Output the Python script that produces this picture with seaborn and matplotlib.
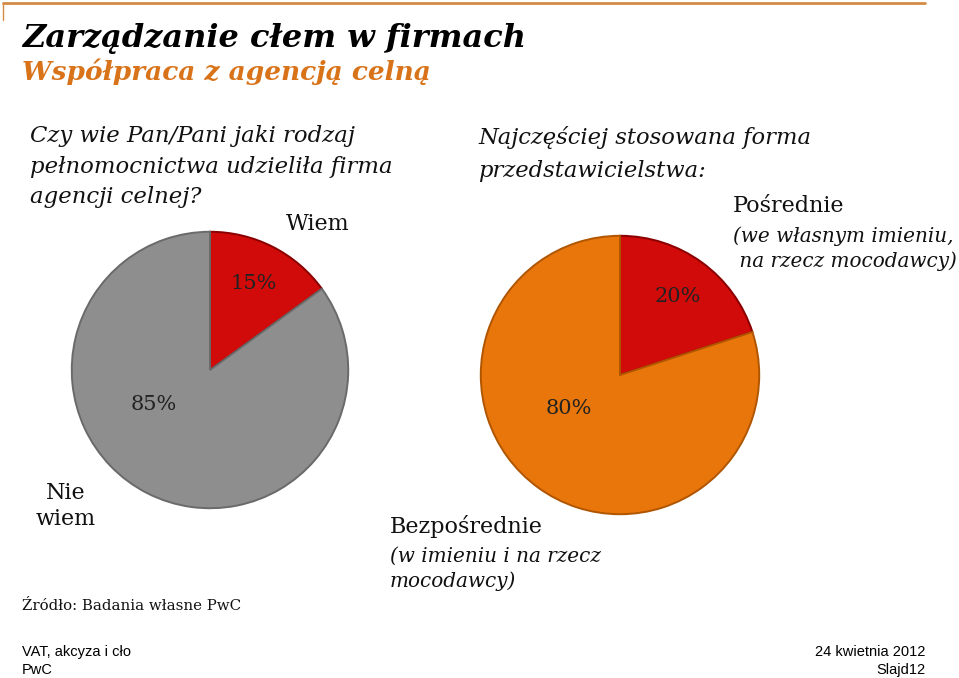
import matplotlib
matplotlib.use("Agg")
import matplotlib.pyplot as plt
from matplotlib.lines import Line2D
import seaborn as sns

#------------------------------------------------------------------------------------------------------------------------------

title = "Zarządzanie cłem w firmach"
subtitle = "Współpraca z agencją celną"

left_question = "Czy wie Pan/Pani jaki rodzaj\npełnomocnictwa udzieliła firma\nagencji celnej?"
left_labels = ["Wiem", "Nie\nwiem"]
left_values = [15, 85]
left_colors = ["#d10a0a", "#8e8e8e"]
left_edges = ["#8a0000", "#6a6a6a"]

right_question = "Najczęściej stosowana forma\nprzedstawicielstwa:"
right_labels = ["Pośrednie", "Bezpośrednie"]
right_notes = ["(we własnym imieniu,\n na rzecz mocodawcy)", "(w imieniu i na rzecz\nmocodawcy)"]
right_values = [20, 80]
right_colors = ["#d10a0a", "#e8760a"]
right_edges = ["#8a0000", "#b05500"]

source = "Źródło: Badania własne PwC"
footer_left = "VAT, akcyza i cło\nPwC"
footer_right = "24 kwietnia 2012\nSlajd12"

#------------------------------------------------------------------------------------------------------------------------------

sns.set_theme(style="white")
plt.rcParams['font.family'] = ['DejaVu Serif']

W, H = 959, 678
fig = plt.figure(figsize=(W / 100, H / 100), dpi=100)
fig.patch.set_facecolor("white")


def px(x, y):
    # pixel coords (top-left origin) -> figure fraction
    return x / W, 1 - y / H


def draw_pie(cx, cy, r, values, colors, edges, big_offset):
    ax = fig.add_axes([(cx - r) / W, (H - cy - r) / H, 2 * r / W, 2 * r / H])
    wedges, texts, autotexts = ax.pie(values, colors=colors, startangle=90, counterclock=False,
                                      autopct='%d%%', pctdistance=0.7, radius=1.0,
                                      textprops={'fontsize': 15, 'color': '#222222'},
                                      wedgeprops={'linewidth': 1.4})
    for w, ec in zip(wedges, edges):
        w.set_edgecolor(ec)
    # the big slice label sits lower-left in the original
    autotexts[1].set_position(big_offset)
    ax.set_xlim(-1.02, 1.02)
    ax.set_ylim(-1.02, 1.02)
    ax.set_aspect('equal')
    ax.axis('off')
    return ax


draw_pie(210, 370, 141, left_values, left_colors, left_edges, (-0.41, -0.25))
draw_pie(620, 375, 142, right_values, right_colors, right_edges, (-0.37, -0.24))

# header line
fig.add_artist(Line2D([3 / W, 925 / W], [1 - 3 / H, 1 - 3 / H], color="#d38b45", lw=2))
fig.add_artist(Line2D([3 / W, 3 / W], [1 - 3 / H, 1 - 20 / H], color="#d38b45", lw=1))

fig.text(*px(22, 47), title, fontsize=23, fontweight='bold', fontstyle='italic', color='black', va='baseline')
fig.text(*px(22, 80), subtitle, fontsize=19, fontweight='bold', fontstyle='italic', color='#d9731a', va='baseline')

fig.text(*px(30, 125), left_question, fontsize=16.4, fontstyle='italic', color='#111111', va='top', linespacing=1.5)
fig.text(*px(478, 126), right_question, fontsize=16.3, fontstyle='italic', color='#111111', va='top', linespacing=1.62)

fig.text(*px(318, 224), left_labels[0], fontsize=16, ha='center', va='center', color='#111111')
fig.text(*px(66, 506), left_labels[1], fontsize=16, ha='center', va='center', color='#111111', linespacing=1.2)

fig.text(*px(733, 206), right_labels[0], fontsize=16, ha='left', va='center', color='#111111')
fig.text(*px(733, 249), right_notes[0], fontsize=14.4, fontstyle='italic', ha='left', va='center', color='#111111',
         linespacing=1.35)
fig.text(*px(390, 526), right_labels[1], fontsize=16, ha='left', va='center', color='#111111')
fig.text(*px(390, 569), right_notes[1], fontsize=14.4, fontstyle='italic', ha='left', va='center', color='#111111',
         linespacing=1.35)

fig.text(*px(22, 606), source, fontsize=10.8, ha='left', va='center', color='#111111')

fig.text(*px(22, 661), footer_left, fontsize=10.5, family='Liberation Sans', ha='left', va='center', color='black',
         linespacing=1.3)
fig.text(*px(925, 661), footer_right, fontsize=10.5, family='Liberation Sans', ha='right', va='center', color='black',
         linespacing=1.3, multialignment='right')

fig.savefig("out.png", dpi=100, facecolor="white")
